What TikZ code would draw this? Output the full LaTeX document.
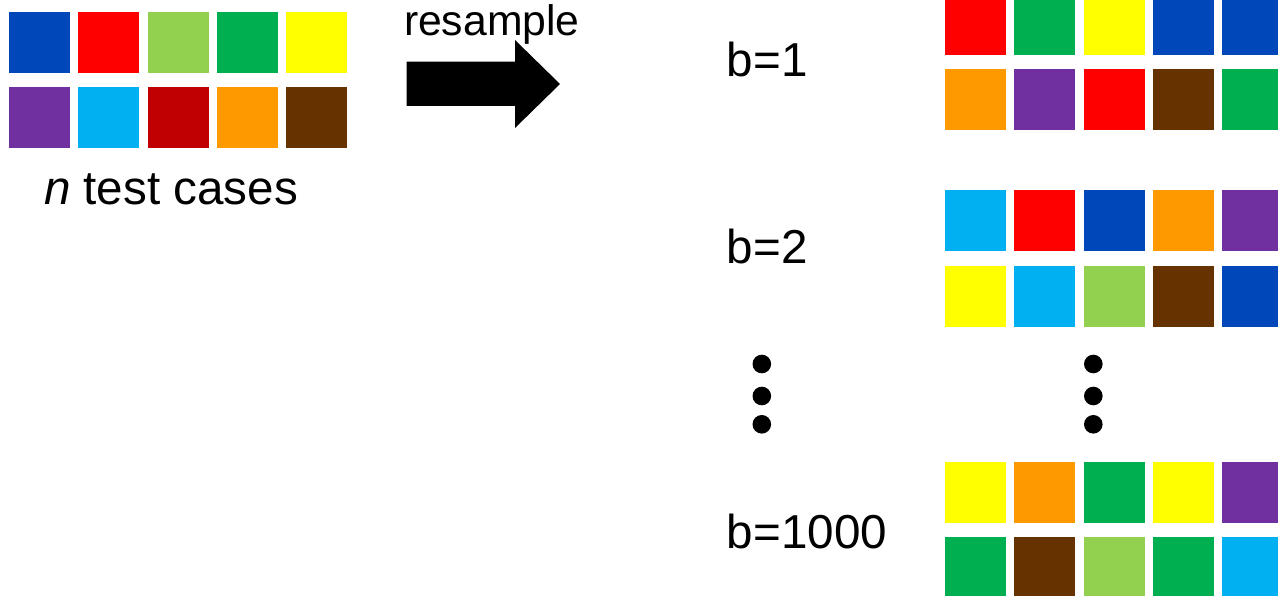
\documentclass[tikz,border=0pt]{standalone}
\usepackage{fontspec}
\setmainfont{Liberation Sans}

\definecolor{cBlue}{HTML}{0048BA}
\definecolor{cRed}{HTML}{FF0000}
\definecolor{cLGreen}{HTML}{92D050}
\definecolor{cGreen}{HTML}{00B050}
\definecolor{cYellow}{HTML}{FFFF00}
\definecolor{cPurple}{HTML}{7030A0}
\definecolor{cLBlue}{HTML}{00B0F0}
\definecolor{cDRed}{HTML}{C00000}
\definecolor{cOrange}{HTML}{FF9900}
\definecolor{cBrown}{HTML}{663300}

\tikzset{
  cell/.style={fill=#1, draw=none, minimum size=61pt, inner sep=0pt,
               outer sep=0pt, anchor=north west},
  lbl/.style={inner sep=0pt, outer sep=0pt, anchor=base west, text=black},
  bigtext/.style={font=\fontsize{47.6}{57}\selectfont},
  dot/.style={fill=black, draw=none},
}

% one row of five coloured cells: name prefix, left x, top y, colours
\newcommand\drawcellrow[4]{%
  \foreach \c [count=\i] in {#4} {
    \node[cell=\c] (#1-\i) at ({#2+69.25*(\i-1)},#3) {};
  }}

\begin{document}
\begin{tikzpicture}[x=1pt,y=-1pt]
\useasboundingbox (0,0) rectangle (1278,596);
\clip (0,0) rectangle (1278,596);

% original sample
\drawcellrow{src-a}{9}{12}{cBlue,cRed,cLGreen,cGreen,cYellow}
\drawcellrow{src-b}{9}{87}{cPurple,cLBlue,cDRed,cOrange,cBrown}
\node[lbl, bigtext] (cases) at (44,205) {\textit{n} test cases};

% resampling arrow
\node[lbl, font=\fontsize{42.7}{51}\selectfont] (resample) at (404,36) {resample};
\fill[black] (406.7,61.7) -- (515,61.7) -- (515,40) -- (560,84)
  -- (515,128) -- (515,106) -- (406.7,106) -- cycle;

% bootstrap replicates
\node[lbl, bigtext] (b1) at (726.8,76.7) {b=1};
\drawcellrow{b1-a}{945}{-6}{cRed,cGreen,cYellow,cBlue,cBlue}
\drawcellrow{b1-b}{945}{69}{cOrange,cPurple,cRed,cBrown,cGreen}

\node[lbl, bigtext] (b2) at (726.8,263.3) {b=2};
\drawcellrow{b2-a}{945}{190}{cLBlue,cRed,cBlue,cOrange,cPurple}
\drawcellrow{b2-b}{945}{266}{cYellow,cLBlue,cLGreen,cBrown,cBlue}

% vertical ellipses
\foreach \yy [count=\k] in {364,396,424.3} {
  \fill[dot] (761.8,\yy) circle (9.3);
  \fill[dot] (1093.3,\yy) circle (9.3);
}

\node[lbl, bigtext] (b1000) at (726.8,548.3) {b=1000};
\drawcellrow{bN-a}{945}{462}{cYellow,cOrange,cGreen,cYellow,cPurple}
\drawcellrow{bN-b}{945}{537}{cGreen,cBrown,cLGreen,cGreen,cLBlue}
\end{tikzpicture}
\end{document}
